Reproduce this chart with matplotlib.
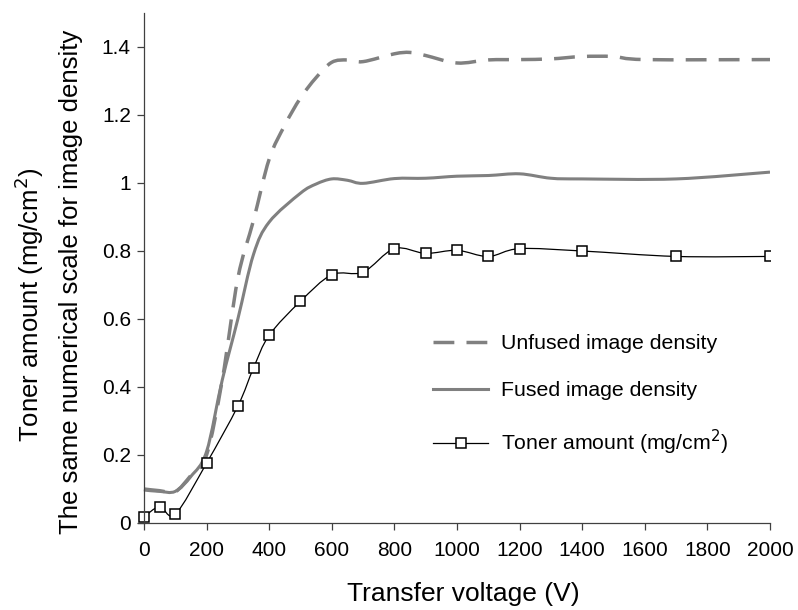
import matplotlib
matplotlib.use("Agg")
import matplotlib.pyplot as plt
from matplotlib.path import Path
from matplotlib.patches import PathPatch
import numpy as np

plt.rcParams['font.family'] = ['Liberation Sans', 'DejaVu Sans']

volt_unfused = [0, 50, 100, 150, 200, 250, 300, 350, 400, 450, 500, 550, 600, 650, 700,
                800, 850, 900, 1000, 1100, 1200, 1300, 1400, 1500, 1600, 2000]
unfused = [0.10, 0.095, 0.092, 0.14, 0.20, 0.42, 0.72, 0.89, 1.07, 1.17, 1.25, 1.31, 1.355, 1.362, 1.357,
           1.38, 1.384, 1.375, 1.353, 1.362, 1.363, 1.365, 1.372, 1.372, 1.363, 1.363]

volt_fused = [0, 50, 100, 150, 200, 250, 300, 350, 400, 500, 550, 600, 650, 700,
              800, 900, 1000, 1100, 1200, 1300, 1400, 1700, 2000]
fused = [0.097, 0.093, 0.093, 0.137, 0.21, 0.42, 0.60, 0.79, 0.885, 0.97, 0.997, 1.012, 1.008, 0.999,
         1.013, 1.014, 1.02, 1.022, 1.027, 1.014, 1.012, 1.012, 1.032]

volt_toner = [0, 50, 100, 200, 300, 350, 400, 500, 600, 700, 800, 900, 1000, 1100, 1200, 1400, 1700, 2000]
toner = [0.018, 0.048, 0.026, 0.176, 0.344, 0.456, 0.552, 0.652, 0.73, 0.738, 0.807, 0.793, 0.802, 0.784,
         0.807, 0.80, 0.784, 0.784]


def smooth_path(x, y):
    # excel-like smoothed line: cubic bezier through the points
    p = np.column_stack([x, y]).astype(float)
    verts = [p[0]]
    codes = [Path.MOVETO]
    n = len(p)
    for i in range(n - 1):
        p0 = p[i - 1] if i > 0 else p[i]
        p3 = p[i + 2] if i + 2 < n else p[i + 1]
        c1 = p[i] + (p[i + 1] - p0) / 6
        c2 = p[i + 1] - (p3 - p[i]) / 6
        verts += [c1, c2, p[i + 1]]
        codes += [Path.CURVE4] * 3
    return Path(verts, codes)


fig = plt.figure(figsize=(7.98, 6.10), dpi=100)
ax = fig.add_axes([138/798, 1-523/610, (770-138)/798, (523-13)/610])

gray = '#808080'
ax.add_patch(PathPatch(smooth_path(volt_unfused, unfused), fill=False, edgecolor=gray, lw=2.5,
                       linestyle=(0, (6, 3.5))))
ax.add_patch(PathPatch(smooth_path(volt_fused, fused), fill=False, edgecolor=gray, lw=2.2))
ax.add_patch(PathPatch(smooth_path(volt_toner, toner), fill=False, edgecolor='black', lw=0.9))
ax.plot(volt_toner, toner, ls='none', marker='s', ms=7.5, mfc='white', mec='black', mew=1.1)

# legend handles
h1, = ax.plot([], [], color=gray, lw=2.5, dashes=(6, 3.5), label='Unfused image density')
h2, = ax.plot([], [], color=gray, lw=2.2, label='Fused image density')
h3, = ax.plot([], [], color='black', lw=0.9, marker='s', ms=7.5, mfc='white', mec='black', mew=1.1,
              label='Toner amount (mg/cm$^2$)')

ax.set_xlim(-19, 2000)
ax.set_ylim(0, 1.5)
ax.set_xticks(range(0, 2001, 200))
ax.set_yticks([0, 0.2, 0.4, 0.6, 0.8, 1.0, 1.2, 1.4])
ax.set_yticklabels(['0', '0.2', '0.4', '0.6', '0.8', '1', '1.2', '1.4'])
ax.spines['left'].set_position(('data', 0))
ax.spines['top'].set_visible(False)
ax.spines['right'].set_visible(False)
for s in ['left', 'bottom']:
    ax.spines[s].set_color('#404040')
    ax.spines[s].set_linewidth(0.9)
ax.tick_params(direction='out', length=5, width=0.9, color='#404040', labelsize=15, pad=4.5)
ax.tick_params(axis='x', pad=8)

fig.text(463/798, 1-594/610, 'Transfer voltage (V)', ha='center', va='center', fontsize=19)
fig.text(29/798, 1-305/610, 'Toner amount (mg/cm$^2$)', rotation=90, ha='center', va='center', fontsize=18.5)
fig.text(71/798, 1-282/610, 'The same numerical scale for image density', rotation=90,
         ha='center', va='center', fontsize=18.5)

ax.legend(handles=[h1, h2, h3], loc='upper left', bbox_to_anchor=(433/798, 1-334/610),
          bbox_transform=fig.transFigure, frameon=False, fontsize=15.3, handlelength=2.6,
          handletextpad=0.6, labelspacing=1.32, borderpad=0, borderaxespad=0)

plt.savefig('out.png', dpi=100)
